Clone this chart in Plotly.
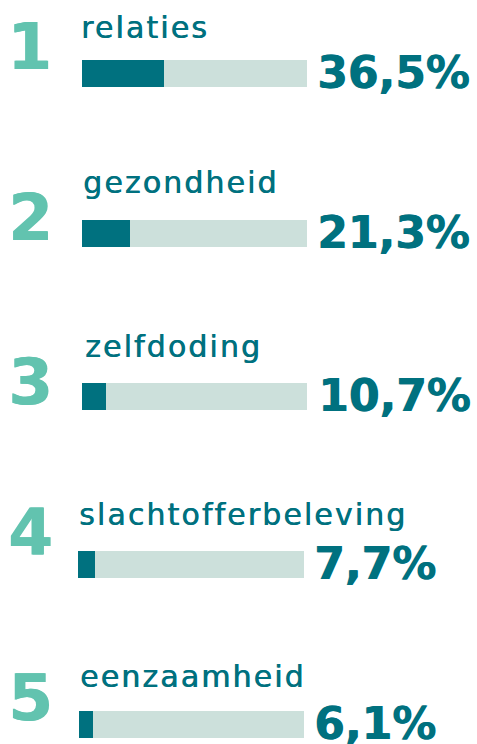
import plotly.graph_objects as go

W, H = 477, 744

# ---- data ----
ranks = ["1", "2", "3", "4", "5"]
categories = ["relaties", "gezondheid", "zelfdoding", "slachtofferbeleving", "eenzaamheid"]
values = [36.5, 21.3, 10.7, 7.7, 6.1]
scale_max = 100

# ---- style / layout (pixels) ----
DARK = "#00717F"
LIGHT = "#CCE0DB"
NUM = "#62C3AF"
bar_x = [(82, 307), (82, 307), (82, 307), (78, 304), (79, 304)]
bar_y = [(60, 87), (220, 247), (383, 410), (551, 578), (711, 738)]
label_x = [79, 81, 83, 77, 78]
label_base = [38, 193, 357, 525, 687]
num_center = [(29, 46), (31, 217), (31, 381), (30, 532), (31, 697)]
pct_shift = [8, 8, 9, 8, 8]


def px(x):
    return x / W


def py(y):
    return 1 - y / H


fig = go.Figure()
annotations = []
layout_axes = {}

for i, (cat, val) in enumerate(zip(categories, values)):
    n = i + 1
    xa = "x" if n == 1 else f"x{n}"
    ya = "y" if n == 1 else f"y{n}"
    fig.add_trace(go.Bar(x=[val], y=[0], orientation="h", width=1,
                         marker=dict(color=DARK, line=dict(width=0)),
                         xaxis=xa, yaxis=ya, hoverinfo="skip", showlegend=False))
    fig.add_trace(go.Bar(x=[scale_max - val], y=[0], orientation="h", width=1,
                         marker=dict(color=LIGHT, line=dict(width=0)),
                         xaxis=xa, yaxis=ya, hoverinfo="skip", showlegend=False))
    x0, x1 = bar_x[i]
    y0, y1 = bar_y[i]
    layout_axes["xaxis" if n == 1 else f"xaxis{n}"] = dict(
        domain=[px(x0), px(x1)], range=[0, scale_max], visible=False,
        fixedrange=True, anchor=ya)
    layout_axes["yaxis" if n == 1 else f"yaxis{n}"] = dict(
        domain=[py(y1), py(y0)], range=[-0.5, 0.5], visible=False,
        fixedrange=True, anchor=xa)

    # rank number
    cx, cy = num_center[i]
    annotations.append(dict(
        text=ranks[i], xref="paper", yref="paper", x=px(cx), y=py(cy + 1),
        xanchor="center", yanchor="middle", showarrow=False,
        font=dict(family="DejaVu Sans", size=64, color=NUM, weight="bold",
                  shadow=f"1px 0 0 {NUM}")))

    # category label
    fs = 30
    annotations.append(dict(
        text=f'<span style="letter-spacing:2.1px">{cat}</span>',
        xref="paper", yref="paper", x=px(label_x[i]),
        y=py(label_base[i] - 0.346 * fs), xanchor="left", yanchor="middle",
        showarrow=False,
        font=dict(family="DejaVu Sans", size=fs, color=DARK,
                  shadow=f"0.6px 0 0 {DARK}")))

    # percentage
    ps = 44
    txt = f"{val:.1f}".replace(".", ",") + "%"
    annotations.append(dict(
        text=txt, xref=xa, yref="paper", x=scale_max, xshift=pct_shift[i],
        y=py(y1 + 0.5 - 0.346 * ps), xanchor="left", yanchor="middle",
        showarrow=False,
        font=dict(family="DejaVu Sans", size=ps, color=DARK, weight="bold",
                  shadow=f"0.8px 0 0 {DARK}")))

fig.update_layout(
    width=W, height=H, autosize=False,
    margin=dict(l=0, r=0, t=0, b=0),
    paper_bgcolor="white", plot_bgcolor="white",
    barmode="stack", bargap=0,
    annotations=annotations,
    **layout_axes,
)

fig.write_html(
    "out.html",
    config={"displayModeBar": False},
    post_script="document.body.style.margin='0';document.body.style.overflow='hidden';",
)
